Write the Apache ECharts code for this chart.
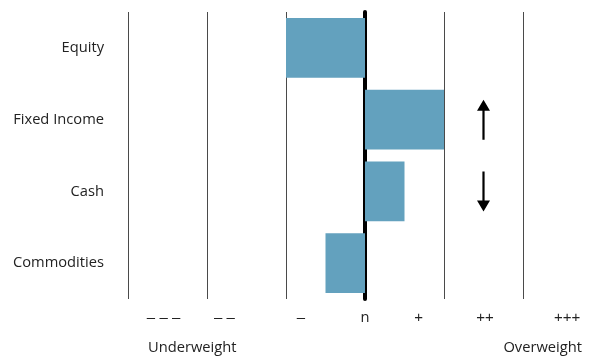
<!DOCTYPE html>
<html>
<head>
<meta charset="utf-8">
<script src="https://cdn.jsdelivr.net/npm/echarts@6/dist/echarts.min.js"></script>
<style>html,body{margin:0;padding:0;background:#fff;}#c{width:602px;height:358px;}</style>
</head>
<body>
<div id="c"></div>
<script>
// Data
const categories = ['Equity', 'Fixed Income', 'Cash', 'Commodities'];
const positioning = [-1, 1, 0.5, -0.5];
const changeDirection = [null, 'up', 'down', null];
const changeColumn = 1.5;
const tickLabels = ['\u2013 \u2013 \u2013', '\u2013 \u2013', '\u2013', 'n', '+', '++', '+++'];
const tickLabelAt = [-2.55, -1.78, -0.81, 0, 0.68, 1.52, 2.56];
const sideLabels = ['Underweight', 'Overweight'];

const FONT = 'Open Sans';
const FS = 14.7;
const upPath = 'path://M6.5,0 L13,11 L7.6,11 L7.6,40 L5.4,40 L5.4,11 L0,11 Z';
const downPath = 'path://M5.4,0 L7.6,0 L7.6,29 L13,29 L6.5,40 L0,29 L5.4,29 Z';

const chart = echarts.init(document.getElementById('c'), null, {renderer: 'canvas'});
const arrowData = [];
changeDirection.forEach((d, i) => {
  if (d) arrowData.push({value: [changeColumn, categories[i]], symbol: d === 'up' ? upPath : downPath});
});

chart.setOption({
  animation: false,
  backgroundColor: '#fff',
  grid: {left: 128, top: 12, width: 476, height: 287, containLabel: false},
  xAxis: {
    type: 'value', min: -3, max: 3, interval: 1,
    axisLabel: {show: false}, axisTick: {show: false}, axisLine: {show: false},
    splitLine: {show: true, lineStyle: {color: '#4a4a4a', width: 1}}
  },
  yAxis: {
    type: 'category', data: categories, inverse: true,
    axisTick: {show: false},
    axisLine: {show: true, onZero: true, lineStyle: {color: '#000', width: 4}},
    axisLabel: {show: false},
    splitLine: {show: false}
  },
  series: [
    {
      type: 'bar', data: positioning, barWidth: '83%',
      itemStyle: {color: '#63a1be'}, z: 1
    },
    {
      type: 'scatter', data: arrowData, symbolSize: [13, 40],
      itemStyle: {color: '#000', opacity: 1}, z: 5, silent: true
    }
  ]
});

const font = FS + 'px "' + FONT + '"';
const tickFont = '15px "Liberation Sans"';
const graphics = [];
categories.forEach((c, i) => {
  const p = chart.convertToPixel({gridIndex: 0}, [-3, c]);
  graphics.push({type: 'text', x: 104, y: p[1], style: {text: c, font: font, fill: '#222', align: 'right', verticalAlign: 'middle'}});
});
tickLabels.forEach((t, i) => {
  const x = chart.convertToPixel({xAxisIndex: 0}, tickLabelAt[i]);
  graphics.push({type: 'text', x: x, y: 318, style: {text: t, font: i === 3 ? font : tickFont, fill: '#222', align: 'center', verticalAlign: 'middle'}});
});
graphics.push({type: 'text', x: 148, y: 348, style: {text: sideLabels[0], font: font, fill: '#222', align: 'left', verticalAlign: 'middle'}});
graphics.push({type: 'text', x: 582, y: 348, style: {text: sideLabels[1], font: font, fill: '#222', align: 'right', verticalAlign: 'middle'}});
chart.setOption({graphic: graphics});
</script>
</body>
</html>
